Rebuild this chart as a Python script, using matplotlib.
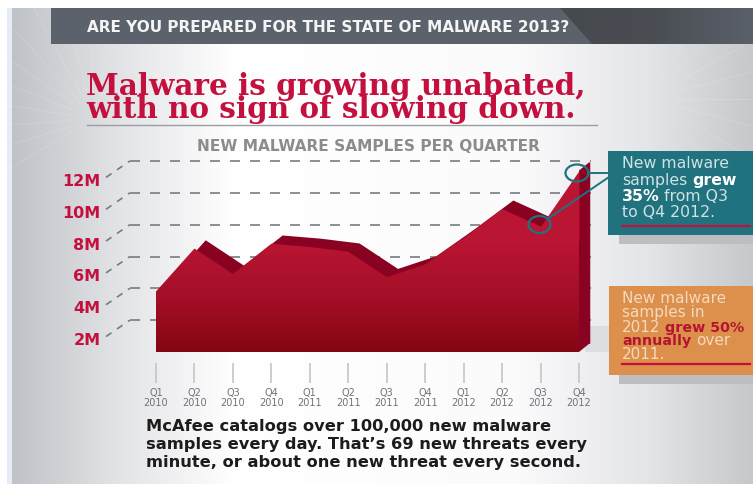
import numpy as np
import matplotlib
matplotlib.use('Agg')
import matplotlib.pyplot as plt
from matplotlib.colors import LinearSegmentedColormap
from matplotlib.patches import Ellipse, Polygon, Rectangle
from matplotlib.transforms import ScaledTranslation

W, H = 753, 485

quarters = ['Q1\n2010', 'Q2\n2010', 'Q3\n2010', 'Q4\n2010',
            'Q1\n2011', 'Q2\n2011', 'Q3\n2011', 'Q4\n2011',
            'Q1\n2012', 'Q2\n2012', 'Q3\n2012', 'Q4\n2012']
samples = [3.8, 6.5, 4.9, 6.8, 6.6, 6.3, 4.7, 5.5, 7.2, 9.0, 7.9, 11.4]
ticks_m = [2, 4, 6, 8, 10, 12]
tick_labels = ['2M', '4M', '6M', '8M', '10M', '12M']

RED = '#c4103f'
TEAL = '#1f727e'
ORANGE = '#dd8f4c'
DEPTH = '#8a0222'
DX, DY = 0.28, 0.55   # offset of the back face, in quarters / millions


def px(fs):
    return fs * 0.72


def runs(ax, x, y, parts, fs, color, bold_color=None, bold_fs=None):
    # one line of text with some bold words in it
    r = ax.figure.canvas.get_renderer()
    inv = ax.transData.inverted()
    for s, bold in parts:
        t = ax.text(x, y, s, fontsize=px(bold_fs or fs) if bold else px(fs), family='DejaVu Sans',
                    va='center', fontweight='bold' if bold else 'normal',
                    color=(bold_color or color) if bold else color)
        bb = t.get_window_extent(r)
        x = inv.transform((bb.x1, bb.y0))[0] + fs * 0.3


fig = plt.figure(figsize=(W / 100, H / 100), dpi=100, facecolor='white')

# ---- background layer, in pixels
bg = fig.add_axes([0, 0, 1, 1], zorder=0)
bg.axis('off')
bg.add_patch(Rectangle((7, 9), 6, H, color='#e6ecf6', lw=0))
stops = [(0, '#bfc2c7'), (0.14, '#e2e3e6'), (0.3, '#ffffff'), (0.68, '#fbfbfc'),
         (0.86, '#e4e5e8'), (1, '#c6c8cc')]
cmap = LinearSegmentedColormap.from_list('bg', stops)
bg.imshow(np.linspace(0, 1, 256)[None, :], cmap=cmap, aspect='auto',
          extent=(12, W, H, 9), zorder=1)

# faint scratch texture in the top corners
for a in np.radians(np.arange(150, 290, 13)):
    bg.plot([95 + 25 * np.cos(a), 95 + 130 * np.cos(a)],
            [120 + 25 * np.sin(a), 120 + 130 * np.sin(a)],
            color='white', lw=0.5, alpha=0.2, zorder=2)
for a in np.radians(np.arange(-60, 60, 15)):
    bg.plot([650 + 25 * np.cos(a), 650 + 110 * np.cos(a)],
            [100 + 25 * np.sin(a), 100 + 110 * np.sin(a)],
            color='white', lw=0.5, alpha=0.2, zorder=2)

# header band
bg.add_patch(Rectangle((51, 9), W - 51, 36, color='#5c626c', lw=0, zorder=3))
wedge = Polygon([(560, 9), (W, 9), (W, 45), (592, 45)], fc='none', lw=0, zorder=3)
bg.add_patch(wedge)
dark = LinearSegmentedColormap.from_list('dark', ['#46494e', '#4a4e54', '#5a6069'])
band = bg.imshow(np.linspace(0, 1, 128)[None, :], cmap=dark, aspect='auto',
                 extent=(560, W, 45, 9), zorder=3)
band.set_clip_path(wedge)
bg.set_xlim(0, W)
bg.set_ylim(H, 0)
bg.text(87, 27.5, 'ARE YOU PREPARED FOR THE STATE OF MALWARE 2013?', color='#f4f4f4',
        fontsize=px(15.3), family='DejaVu Sans', fontweight='bold', va='center', zorder=4)

# headline
bg.text(86, 98, 'Malware is growing unabated,\nwith no sign of slowing down.',
        color=RED, fontsize=px(29.5), family='DejaVu Serif', fontweight='bold',
        va='center', linespacing=0.78, zorder=4)
bg.plot([87, 597], [126, 126], color='#9a9da3', lw=1, zorder=4)
bg.text(368, 147, 'NEW MALWARE SAMPLES PER QUARTER', color='#8c8c8c', fontsize=px(15.4),
        family='DejaVu Sans', fontweight='bold', ha='center', va='center', zorder=4)

# shadows of the callouts and of the chart base
bg.add_patch(Rectangle((619, 236), W - 619, 9, color='#bcbec2', lw=0, zorder=3))
bg.add_patch(Rectangle((619, 376), W - 619, 9, color='#bcbec2', lw=0, zorder=3))
bg.add_patch(Rectangle((585, 327), 30, 26, color='#dcdde0', lw=0, zorder=3))

# ---- chart, on its own scales
ax = fig.add_axes([156 / W, 1 - 353 / H, (579 - 156) / W, (353 - 162) / H], zorder=1)
ax.patch.set_alpha(0)
x = np.arange(len(samples))
y = np.array(samples)

ax.hlines(ticks_m, -0.68, 11.3, color='#777b80', lw=1.2, linestyles=(0, (6, 6)),
          clip_on=False, zorder=1)
# slanted leaders from the labels up to the gridlines
for m in ticks_m:
    ax.plot([-1.3, -0.68], [m - 1.03, m], color='#777b80', lw=1.2, ls=(0, (4, 4)),
            clip_on=False, zorder=1)

ax.fill_between(x + DX, y + DY, DY, color=DEPTH, lw=0, clip_on=False, zorder=2)
ax.add_patch(Polygon([(x[-1], y[-1]), (x[-1] + DX, y[-1] + DY), (x[-1] + DX, DY), (x[-1], 0)],
                     color=DEPTH, lw=0, clip_on=False, zorder=2))
front = ax.fill_between(x, y, 0, color='none', lw=0, zorder=3)
red = LinearSegmentedColormap.from_list('red', ['#840611', '#a50f28', '#ba1533'])
im = ax.imshow(np.linspace(0, 1, 256)[:, None], cmap=red, origin='lower', aspect='auto',
               extent=(0, 11, 0, 7), zorder=3)
im.set_clip_path(front.get_paths()[0], transform=ax.transData)
# top of the gradient just holds its colour above 7M
ax.fill_between(x, y, 7, where=y > 6.9, interpolate=True, color='#ba1533', lw=0, zorder=3)
ax.set_xlim(0, len(samples) - 1)
ax.set_ylim(0, 12)

for s in ax.spines.values():
    s.set_visible(False)
ax.spines['bottom'].set_position(('outward', 8))
ax.set_xticks(x)
ax.set_xticklabels(quarters, fontsize=px(9.8), color='#6f7378', linespacing=0.9)
ax.tick_params(axis='x', length=14.5, width=1.2, color='#c4c5c8', pad=3)
ax.set_yticks(ticks_m)
ax.set_yticklabels(tick_labels, fontsize=px(16), color=RED, fontweight='bold',
                   family='DejaVu Sans', ha='right')
ax.tick_params(axis='y', length=0, pad=40)
shift = ScaledTranslation(0, -18 / 100, fig.dpi_scale_trans)
for lab in ax.get_yticklabels():
    lab.set_transform(lab.get_transform() + shift)

# ---- callouts, in pixels
fg = fig.add_axes([0, 0, 1, 1], zorder=2)
fg.set_xlim(0, W)
fg.set_ylim(H, 0)
fg.axis('off')
fg.patch.set_alpha(0)
fig.canvas.draw()

fg.add_patch(Rectangle((608, 152), W - 608, 84, color=TEAL, lw=0))
fg.add_patch(Rectangle((609, 287), W - 609, 89, color=ORANGE, lw=0))
fg.plot([622, 750], [227, 227], color='#c4103f', lw=1.6)
fg.plot([622, 750], [365, 365], color='#c4103f', lw=1.6)

fg.add_patch(Ellipse((577, 174), 23, 17, fill=False, ec=TEAL, lw=1.6))
fg.add_patch(Ellipse((539.5, 225.5), 22, 17, fill=False, ec=TEAL, lw=1.6))
fg.plot([588, 609], [174, 174], color=TEAL, lw=1.4)
fg.plot([549, 609], [219, 178], color=TEAL, lw=1.4)

light = '#cfe2e5'
runs(fg, 622, 164, [('New malware', False)], 15.8, light)
runs(fg, 622, 180.5, [('samples', False), ('grew', True)], 15.8, light, 'white', 15.8)
runs(fg, 622, 197, [('35%', True), ('from Q3', False)], 15.8, light, 'white', 15.8)
runs(fg, 622, 213, [('to Q4 2012.', False)], 15.8, light)

peach = '#f3dabf'
runs(fg, 622, 298.5, [('New malware', False)], 15.2, peach)
runs(fg, 622, 313, [('samples in', False)], 15.2, peach)
runs(fg, 622, 328, [('2012', False), ('grew 50%', True)], 15.2, peach, '#b3152f', 14.2)
runs(fg, 622, 341, [('annually', True), ('over', False)], 15.2, peach, '#b3152f', 14.2)
runs(fg, 622, 354.5, [('2011.', False)], 15.2, peach)

body = 'McAfee catalogs over 100,000 new malware\n' \
       'samples every day. That\u2019s 69 new threats every\n' \
       'minute, or about one new threat every second.'
fg.text(146, 444.5, body, fontsize=px(16.2), family='DejaVu Sans', fontweight='bold',
        color='#1c1c1c', va='center', linespacing=1.27)

fig.savefig('out.png', dpi=100)
